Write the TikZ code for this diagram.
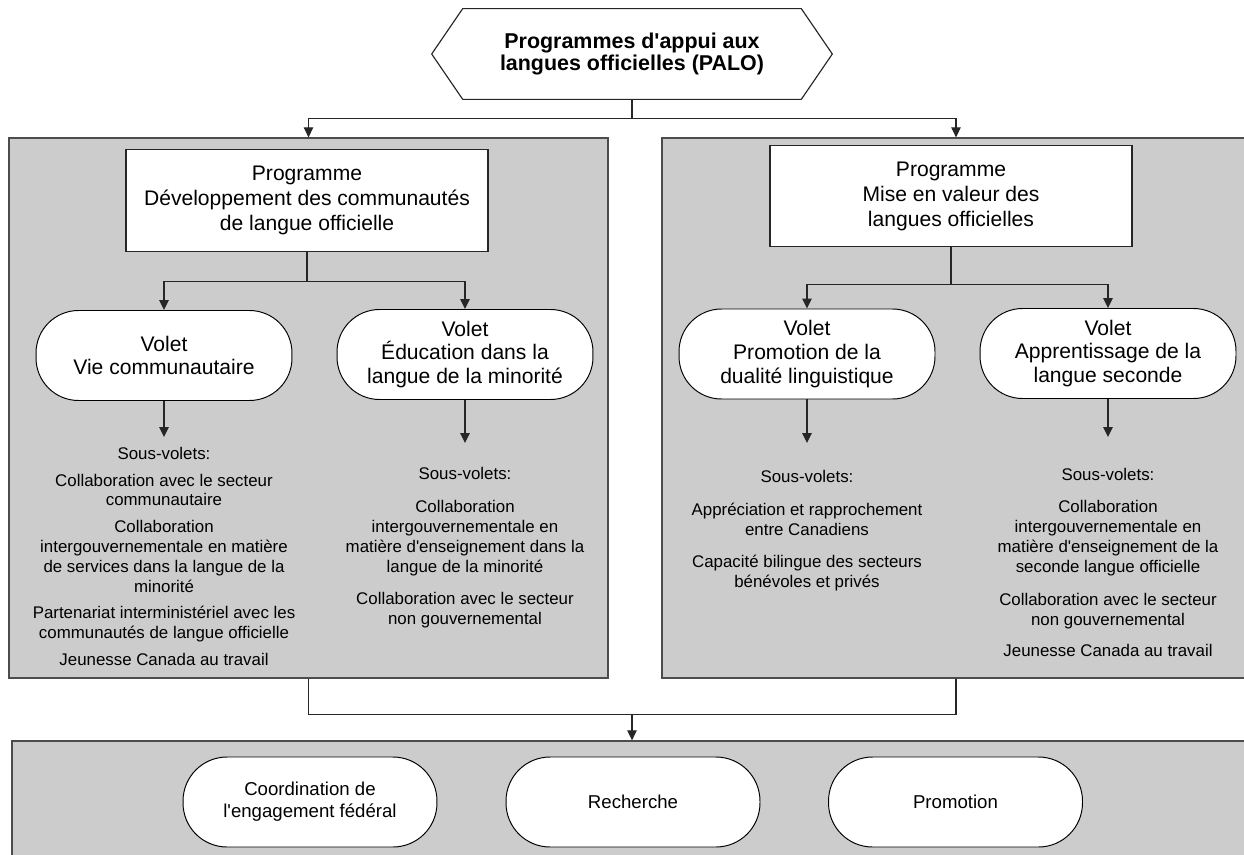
\documentclass[tikz,border=0pt]{standalone}
\usepackage{fontspec}
\setmainfont{Liberation Sans}
\usetikzlibrary{arrows.meta,calc}
\begin{document}
\begin{tikzpicture}[x=0.02cm,y=-0.02cm,
  line/.style={draw=black!85,line width=0.65pt},
  arr/.style={line,-{Triangle[length=0.2cm,width=0.19cm]}},
  panel/.style={draw=black!70,fill=black!20,line width=0.8pt,inner sep=0pt},
  progbox/.style={draw=black!85,fill=white,line width=0.65pt,minimum width=7.24cm,minimum height=2.03cm,align=center,font=\fontsize{12}{14.2}\selectfont,inner sep=0pt},
  pill/.style={draw=black,fill=white,line width=0.55pt,rounded corners=0.85cm,minimum width=5.12cm,minimum height=1.8cm,align=center,font=\fontsize{12}{13.6}\selectfont,inner sep=0pt},
  bpill/.style={pill,rounded corners=0.88cm,minimum width=5.08cm,font=\fontsize{10.6}{12.5}\selectfont},
  subtext/.style={align=center,anchor=north,inner sep=0pt,font=\fontsize{9.6}{11.35}\selectfont},
  titlebox/.style={minimum width=8cm,minimum height=1.8cm,align=center,inner sep=0pt,font=\fontsize{12.2}{12.8}\selectfont\bfseries}]

\clip (0,0) rectangle (1244,855);
\fill[white] (0,0) rectangle (1244,855);

% title
\node[titlebox] (hex) at (632,54) {Programmes d\textquotesingle appui aux\\langues officielles (PALO)};
\draw[line] (hex.west) -- ($(hex.north west)+(31,0)$) -- ($(hex.north east)+(-31,0)$) -- (hex.east) -- ($(hex.south east)+(-31,0)$) -- ($(hex.south west)+(31,0)$) -- cycle;

% panels
\node[panel,minimum width=11.98cm,minimum height=10.8cm] (lpan) at (308.5,408) {};
\node[panel,minimum width=11.96cm,minimum height=10.8cm] (rpan) at (961,408) {};
\node[panel,minimum width=24.96cm,minimum height=3.18cm] (bpan) at (636,820.5) {};

% top connectors
\coordinate (tj) at ($(hex.south)+(0,19)$);
\draw[line] (hex.south) -- (tj);
\draw[arr] (tj) -| (lpan.north);
\draw[arr] (tj) -| ($(rpan.north)+(-5,0)$);

% programmes
\node[progbox] (lprog) at (307,200.5) {Programme\\Développement des communautés\\de langue officielle};
\node[progbox] (rprog) at (951,196) {Programme\\Mise en valeur des\\langues officielles};

% volets
\node[pill] (vie) at (164,355.5) {Volet\\Vie communautaire};
\node[pill] (edu) at (465,354.5) {Volet\\Éducation dans la\\langue de la minorité};
\node[pill] (prom) at (807,354) {Volet\\Promotion de la\\dualité linguistique};
\node[pill] (appr) at (1108,353.5) {Volet\\Apprentissage de la\\langue seconde};

\coordinate (lj) at ($(lprog.south)+(0,30)$);
\draw[line] (lprog.south) -- (lj);
\draw[arr] (lj) -| (vie.north);
\draw[arr] (lj) -| (edu.north);
\coordinate (rj) at ($(rprog.south)+(0,37)$);
\draw[line] (rprog.south) -- (rj);
\draw[arr] (rj) -| (prom.north);
\draw[arr] (rj) -| (appr.north);

% arrows to sous-volets
\coordinate (viee) at (164,437);
\coordinate (edue) at (465,443);
\coordinate (prome) at (807,443);
\coordinate (appre) at (1108,437);
\draw[arr] (vie.south) -- (viee);
\draw[arr] (edu.south) -- (edue);
\draw[arr] (prom.south) -- (prome);
\draw[arr] (appr.south) -- (appre);

% sous-volets
\node[subtext] (viesub) at (164,447) {Sous-volets:\\[3.7pt]Collaboration avec le secteur\\communautaire\\[3.7pt]Collaboration\\intergouvernementale en matière\\de services dans la langue de la\\minorité\\[3.7pt]Partenariat interministériel avec les\\communautés de langue officielle\\[3.7pt]Jeunesse Canada au travail};
\node[subtext] (edusub) at (465,467) {Sous-volets:\\[7.3pt]Collaboration\\intergouvernementale en\\matière d\textquotesingle enseignement dans la\\langue de la minorité\\[7.3pt]Collaboration avec le secteur\\non gouvernemental};
\node[subtext] (promsub) at (807,470) {Sous-volets:\\[7.6pt]Appréciation et rapprochement\\entre Canadiens\\[6.5pt]Capacité bilingue des secteurs\\bénévoles et privés};
\node[subtext] (apprsub) at (1108,468) {Sous-volets:\\[6.8pt]Collaboration\\intergouvernementale en\\matière d\textquotesingle enseignement de la\\seconde langue officielle\\[7.3pt]Collaboration avec le secteur\\non gouvernemental\\[6.5pt]Jeunesse Canada au travail};

% bottom connector
\coordinate (bj) at ($(lpan.south)+(0,36)$);
\draw[line] (lpan.south) -- (bj) -| ($(rpan.south)+(-5,0)$);
\draw[arr] (hex.south |- bj) -- (hex.south |- bpan.north);

% bottom items
\node[bpill] (coord) at (310,802) {Coordination de\\l\textquotesingle engagement fédéral};
\node[bpill] (rech) at (633,802) {Recherche};
\node[bpill] (promo) at (955.5,802) {Promotion};
\end{tikzpicture}
\end{document}
